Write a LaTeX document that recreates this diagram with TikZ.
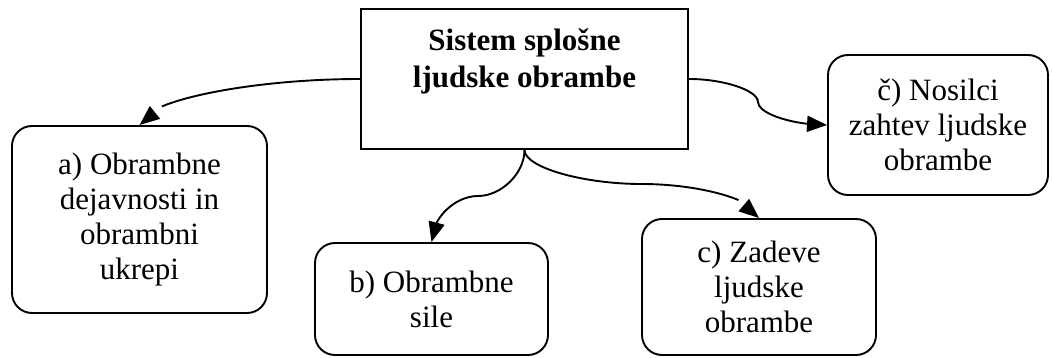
\documentclass[tikz,border=0pt]{standalone}
\usepackage{fontspec}
\setmainfont{Liberation Serif}
\usetikzlibrary{arrows.meta, bending, calc}
\tikzstyle{fSistem} = [rectangle, draw=black, line width=1.9pt, minimum width=327pt, minimum height=140pt, align=center, font=\fontsize{31}{37}\selectfont\bfseries, text depth=42pt]
\tikzstyle{fPodrocje} = [rectangle, rounded corners=20pt, draw=black, line width=1.9pt, align=center, font=\fontsize{31}{35}\selectfont]
\tikzstyle{fCurve} = [line width=1.9pt, -{Triangle[length=20pt, width=16pt]}]

\begin{document}
\begin{tikzpicture}[x=1pt, y=-1pt]
    \useasboundingbox (0,0) rectangle (1052,358);
    \node (sistem) [fSistem] at (524.5,79) {Sistem splošne\\ljudske obrambe};
    \node (dejavnosti) [fPodrocje, minimum width=255pt, minimum height=187pt] at (139.5,219.5) {a) Obrambne\\dejavnosti in\\obrambni\\ukrepi};
    \node (sile) [fPodrocje, minimum width=233pt, minimum height=112pt] at (431.5,299) {b) Obrambne\\sile};
    \node (zadeve) [fPodrocje, minimum width=234pt, minimum height=136pt] at (759,287) {c) Zadeve\\ljudske\\obrambe};
    \node (nosilci) [fPodrocje, minimum width=220pt, minimum height=140pt] at (938,125) {č) Nosilci\\zahtev ljudske\\obrambe};

    \draw [fCurve] (sistem.west) .. controls +(-111,0) and +(0,-23.5) .. (dejavnosti.north);
    \draw [fCurve] (sistem.south) .. controls +(0,23.5) and +(23.25,0) .. ($(sistem.south)!.5!(sile.north)$) .. controls +(-23.25,0) and +(0,-23.5) .. (sile.north);
    \draw [fCurve] (sistem.south) .. controls +(0,17.5) and +(-58.6,0) .. ($(sistem.south)!.5!(zadeve.north)$) .. controls +(58.6,0) and +(0,-17.5) .. (zadeve.north);
    \draw [fCurve] (sistem.east) .. controls +(35,0) and +(0,-11.5) .. ($(sistem.east)!.5!(nosilci.west)$) .. controls +(0,11.5) and +(-35,0) .. (nosilci.west);
\end{tikzpicture}
\end{document}
